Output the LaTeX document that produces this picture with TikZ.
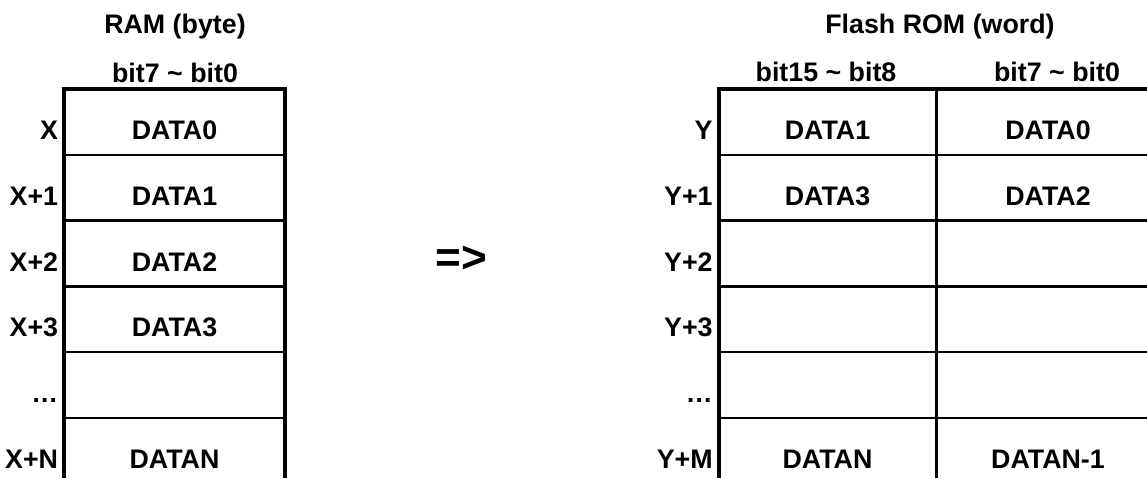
\documentclass[tikz,border=0pt]{standalone}
\usepackage{fontspec}
\setmainfont{Liberation Sans}
\tikzset{ lbl/.style = { inner sep = 0pt
                       , font      = \fontsize{13.4}{15}\selectfont\bfseries
                       , anchor    = base
                       },
          addr/.style = { lbl
                        , anchor = base east
                        },
          frame/.style = { draw       = black
                         , line width = 1.7pt
                         , line join  = miter
                         },
          rowline/.style = { draw       = black
                           , line width = 1.2pt
                           }
        }

\begin{document}
\begin{tikzpicture}[x=0.5pt, y=-0.5pt]
            \clip (0,0) rectangle (1147,478);
            % RAM (byte)
            \node[lbl] (ramtitle) at (175,33) {RAM (byte)};
            \node[lbl] (ramhead)  at (175,82) {bit7 \textasciitilde{} bit0};
            \coordinate (ramtl) at (64,89);
            \coordinate (ramtr) at (285,89);
            \foreach \lab/\dat [count=\i from 0] in
                {X/DATA0, X+1/DATA1, X+2/DATA2, X+3/DATA3, \dots/, X+N/DATAN} {
                \pgfmathsetmacro\ytop{89+65.8*\i}
                \ifnum\i>0
                    \path[rowline] (64,\ytop) -- (285,\ytop);
                \fi
                \node[addr] (ramaddr\i) at (58.5,\ytop+50.5) {\lab};
                \node[lbl]  (ramdata\i) at (174.5,\ytop+50.5) {\dat};
            }
            \path[frame] (ramtl |- 0,478) -- (ramtl) -- (ramtr) -- (ramtr |- 0,478);

            % the arrow
            \node[lbl, anchor=center, font=\fontsize{22}{26}\selectfont\bfseries]
                (conv) at (461,259) {=>};

            % Flash ROM (word)
            \node[lbl] (romtitle) at (940,33) {Flash ROM (word)};
            \node[lbl] (romhihead) at (826,81) {bit15 \textasciitilde{} bit8};
            \node[lbl] (romlohead) at (1057,81) {bit7 \textasciitilde{} bit0};
            \coordinate (romtl) at (719,89);
            \coordinate (romtm) at (936.5,89);
            \coordinate (romtr) at (1160,89);
            \foreach \lab/\dhi/\dlo [count=\i from 0] in
                {Y/DATA1/DATA0, Y+1/DATA3/DATA2, Y+2//, Y+3//, \dots//, Y+M/DATAN/DATAN-1} {
                \pgfmathsetmacro\ytop{89+65.8*\i}
                \ifnum\i>0
                    \path[rowline] (719,\ytop) -- (1160,\ytop);
                \fi
                \node[addr] (romaddr\i) at (713,\ytop+50.5) {\lab};
                \node[lbl]  (romhi\i)   at (827.5,\ytop+50.5) {\dhi};
                \node[lbl]  (romlo\i)   at (1048,\ytop+50.5) {\dlo};
            }
            \path[rowline] (romtm) -- (romtm |- 0,478);
            \path[frame] (romtl |- 0,478) -- (romtl) -- (romtr) -- (romtr |- 0,478);
\end{tikzpicture}
\end{document}
